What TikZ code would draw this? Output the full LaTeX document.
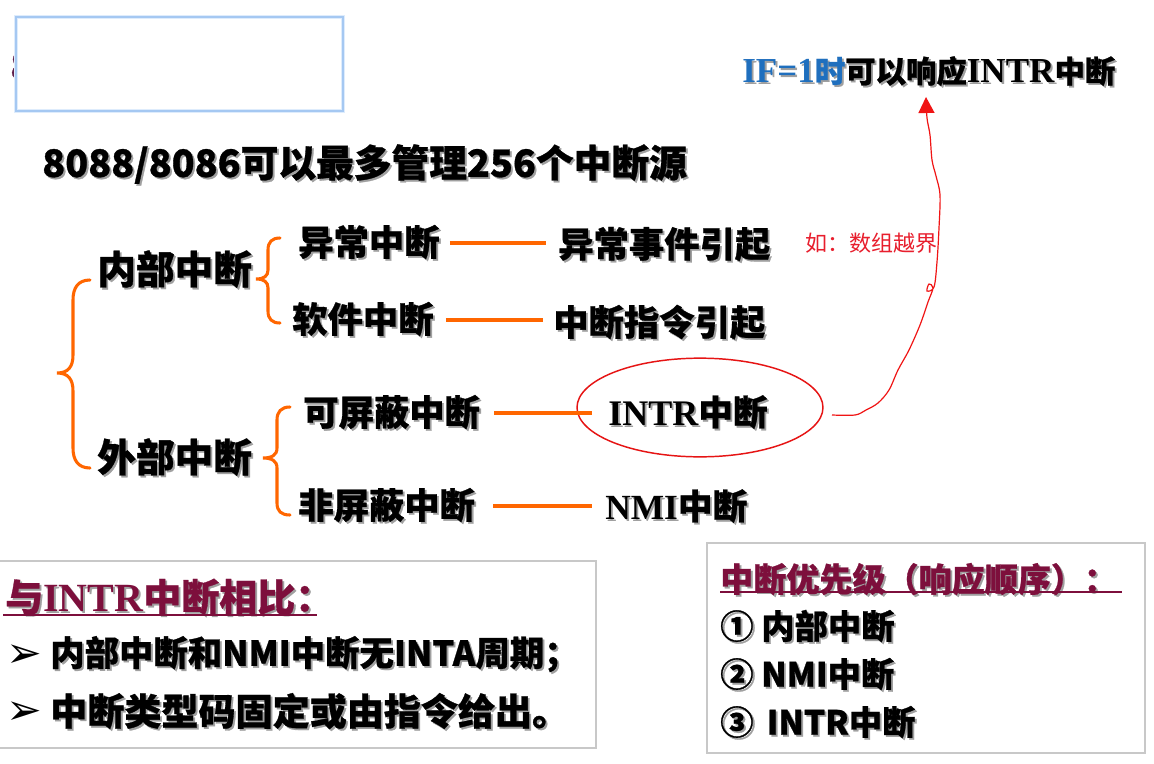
\documentclass[tikz,border=0pt]{standalone}
\usepackage{fontspec}
\setmainfont{Noto Sans CJK SC}[BoldFeatures={FakeBold=0.8}]
\newfontfamily\tnr{Liberation Serif}
\newfontfamily\dju{DejaVu Sans}
\usetikzlibrary{shapes.geometric,arrows.meta}
\definecolor{orn}{RGB}{255,102,0}
\definecolor{maroonc}{RGB}{125,15,60}
\definecolor{ifblue}{RGB}{31,111,190}
\definecolor{shgray}{RGB}{160,160,160}
\definecolor{notered}{RGB}{232,30,45}
\definecolor{glowa}{RGB}{222,236,252}
\definecolor{glowb}{RGB}{165,200,242}
\definecolor{boxgray}{RGB}{200,200,200}
\definecolor{ellred}{RGB}{230,20,20}
\definecolor{arrred}{RGB}{240,20,20}
\definecolor{fragc}{RGB}{95,30,75}
\newcommand\shd[1]{\makebox[0pt][l]{\kern1.4pt\raisebox{-1.4pt}{\textcolor{shgray}{#1}}}#1}
\newcommand\shdd[2]{\makebox[0pt][l]{\kern1.4pt\raisebox{-1.4pt}{\textcolor{shgray}{#1}}}#2}
\newcommand\fs[1]{\fontsize{#1}{#1}\selectfont}
\tikzset{
  txt/.style={inner sep=0pt, anchor=west},
  titletxt/.style={txt, font=\bfseries\fs{28.3pt}},
  lvlone/.style={txt, font=\bfseries\fs{29pt}},
  lvltwo/.style={txt, font=\bfseries\fs{26.5pt}},
  lvlthree/.style={txt, font=\bfseries\fs{26pt}},
  brace/.style={draw=orn, line width=2.3pt, line cap=round},
  conn/.style={draw=orn, line width=2.4pt},
  notetxt/.style={txt, font=\fs{16.5pt}, text=notered},
  hdr/.style={txt, font=\bfseries\fs{28.5pt}, text=maroonc},
  hdrtwo/.style={txt, font=\bfseries\fs{24.8pt}, text=maroonc},
  itemtxt/.style={txt, font=\bfseries\fs{25pt}},
  bultxt/.style={txt, font=\dju\fs{32pt}},
  boxline/.style={draw=boxgray, line width=1.3pt},
  uline/.style={draw=maroonc, line width=1.6pt},
}
\begin{document}
\begin{tikzpicture}[x=0.75pt,y=-0.75pt]
\useasboundingbox (0,0) rectangle (1154,764);
\fill[white] (0,0) rectangle (1154,764);

% hidden title fragment and top-left box
\node[txt, font=\bfseries\fs{28pt}, text=fragc] (frag) at (10,66) {8};
\draw[glowa, line width=3pt, fill=white] (16,17) rectangle (343,111);
\draw[glowb, line width=1.2pt] (16,17) rectangle (343,111);

% title
\node[titletxt] (title) at (42,165) {\shd{8088/8086可以最多管理256个中断源}};

% tree
\node[lvlone] (nb) at (97,270) {\shd{内部中断}};
\node[lvlone] (wb) at (97,458) {\shd{外部中断}};
\node[lvltwo] (yc) at (298,243) {\shd{异常中断}};
\node[lvltwo] (rj) at (292,320) {\shd{软件中断}};
\node[lvltwo] (kp) at (303,413) {\shd{可屏蔽中断}};
\node[lvltwo] (fp) at (298,506) {\shd{非屏蔽中断}};
\node[lvltwo] (ycr) at (558,245) {\shd{异常事件引起}};
\node[lvltwo] (rjr) at (553,323) {\shd{中断指令引起}};
\node[lvlthree] (intr) at (608,413) {\shd{{\tnr\fs{27pt}INTR}中断}};
\node[lvlthree] (nmi) at (605,507) {\shd{{\tnr\fs{26.5pt}NMI}中断}};
\node[draw=ellred, line width=1.1pt, ellipse, inner sep=0pt,
      minimum width=184.5pt, minimum height=74pt] (ell) at (700,407.5) {};

% braces
\draw[brace] (90,280) .. controls (78,280) and (73,288) .. (73,300) -- (73,355)
  .. controls (73,367) and (68,373) .. (57,373) .. controls (68,373) and (73,379) .. (73,391)
  -- (73,448) .. controls (73,460) and (78,468) .. (90,468);
\draw[brace] (280,238) .. controls (272,238) and (268,242) .. (268,250) -- (268,270)
  .. controls (268,276) and (264,279) .. (256,279) .. controls (264,279) and (268,282) .. (268,288)
  -- (268,311) .. controls (268,319) and (272,323) .. (280,323);
\draw[brace] (290,407) .. controls (281,407) and (277,412) .. (277,420) -- (277,448)
  .. controls (277,455) and (272,458) .. (263,458) .. controls (272,458) and (277,461) .. (277,468)
  -- (277,503) .. controls (277,511) and (281,515) .. (290,515);

% orange connectors
\draw[conn, shorten <=7.5pt, shorten >=9pt] (yc.east) -- (yc.east -| ycr.west);
\draw[conn, shorten <=9pt, shorten >=7.5pt] (rj.east) -- (rj.east -| rjr.west);
\draw[conn, shorten <=10.5pt, shorten >=12pt] (kp.east) -- (kp.east -| intr.west);
\draw[conn, shorten <=13.5pt, shorten >=9.5pt] (fp.east) -- (fp.east -| nmi.west);

% note and top text
\node[notetxt] (note) at (805,243) {如：数组越界};
\node[txt, font=\bfseries\fs{22.8pt}] (ifn) at (742,72)
  {\shdd{{\tnr\fs{26.3pt}IF=1}时可以响应{\tnr\fs{26.3pt}INTR}中断}{\textcolor{ifblue}{{\tnr\fs{26.3pt}IF=1}时}可以响应{\tnr\fs{26.3pt}INTR}中断}};

% hand-drawn red arrow
\coordinate (cstart) at (832,415);
\coordinate (cend) at (926,97);
\draw[arrred, line width=0.9pt, -{Triangle[width=12pt,length=12pt]}]
  plot[smooth, tension=0.55] coordinates {(cstart) (855,415) (866,410) (878,403) (889,390) (898,370)
   (909,350) (920,325) (928,302) (933,288) (929,284) (927,291) (934,287) (937,262) (939,228)
   (940,195) (936,176) (932,160) (930,135) (927,118) (cend)};

% bottom-left box
\draw[boxline] (-3,561) rectangle (596,748);
\node[hdr] (h1) at (5,598) {\shd{与{\tnr\fs{30pt}INTR}中断相比：}};
\draw[uline] (3,615) -- (317,615);
\node[bultxt] (b1) at (6,656) {➢};
\node[itemtxt, font=\bfseries\fs{25.8pt}] (t1) at (50,655) {\shd{内部中断和NMI中断无INTA周期；}};
\node[bultxt] (b2) at (6,713) {➢};
\node[itemtxt, font=\bfseries\fs{27.8pt}] (t2) at (50,712) {\shd{中断类型码固定或由指令给出。}};

% bottom-right box
\draw[boxline] (707,543) rectangle (1145,753);
\node[hdrtwo] (h2) at (720,580) {\shd{中断优先级（响应顺序）：}};
\draw[uline] (720,592) -- (1122,592);
\node[itemtxt] (p1) at (720,627) {\shd{① 内部中断}};
\node[itemtxt] (p2) at (720,675) {\shd{② NMI中断}};
\node[itemtxt] (p3) at (720,723) {\shd{③ \,INTR中断}};
\end{tikzpicture}
\end{document}
